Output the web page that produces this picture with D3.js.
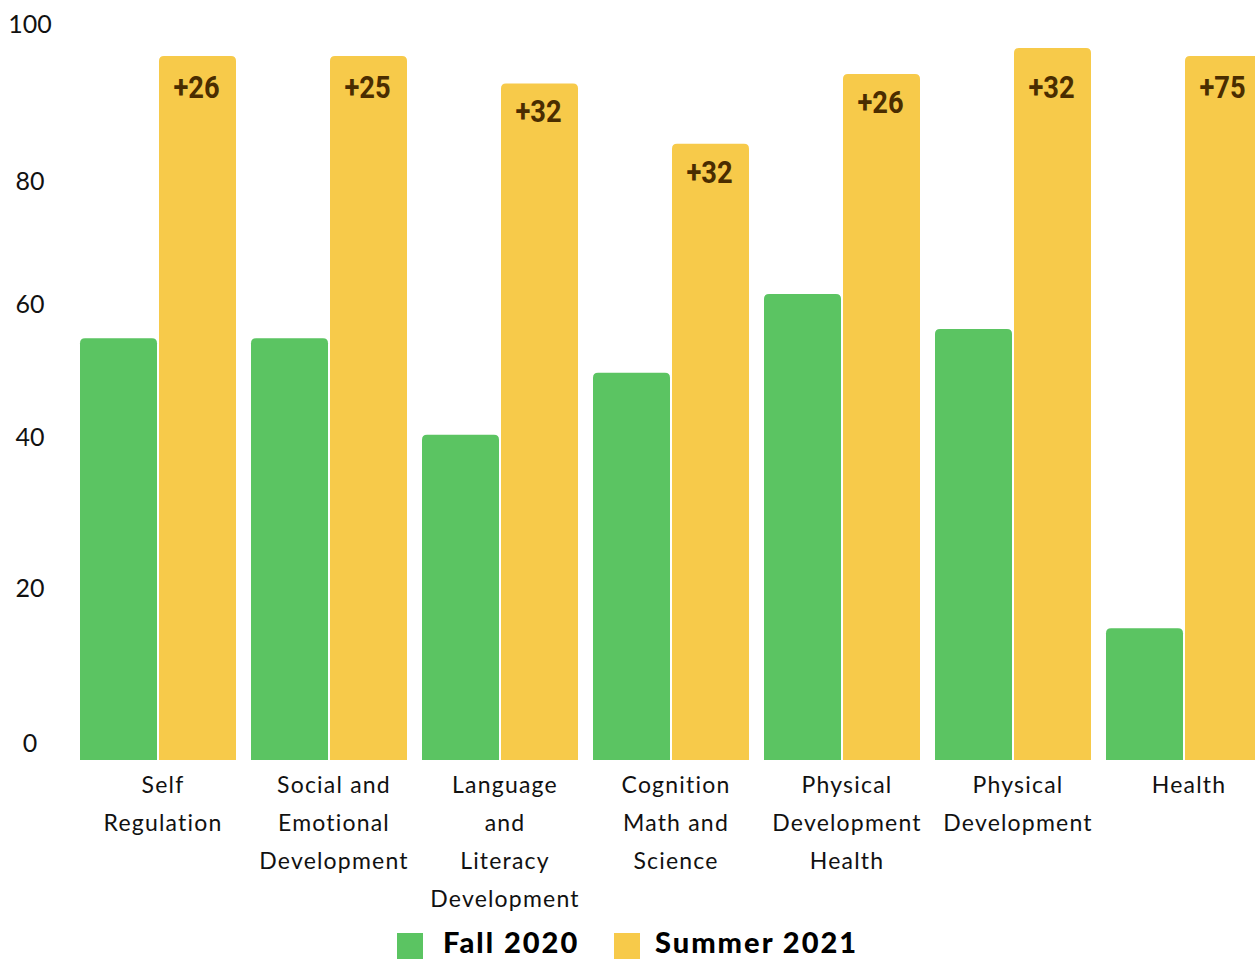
<!DOCTYPE html>
<html><head><meta charset="utf-8">
<script src="https://cdn.jsdelivr.net/npm/d3@7"></script>
<style>body{margin:0;background:#fff}svg{display:block}</style>
</head><body>
<svg id="c" width="1255" height="960"></svg>
<script>
const categories = [
  "Self\nRegulation",
  "Social and\nEmotional\nDevelopment",
  "Language\nand\nLiteracy\nDevelopment",
  "Cognition\nMath and\nScience",
  "Physical\nDevelopment\nHealth",
  "Physical\nDevelopment",
  "Health"
];
const seriesNames = ["Fall 2020", "Summer 2021"];
const fall2020 = [57.4, 57.4, 42.9, 52.2, 64.4, 58.8, 17.0];
const summer2021 = [98.1, 98.1, 94.6, 86.9, 95.8, 99.1, 98.1];
const changeLabels = ["+26", "+25", "+32", "+32", "+26", "+32", "+75"];
const yTicks = [0, 20, 40, 60, 80, 100];

const colors = {"Fall 2020": "#5bc462", "Summer 2021": "#f7ca4a"};
const svg = d3.select("#c");

const baseline = 760;
const y = d3.scaleLinear().domain(yTicks).range([baseline, 605, 454, 321, 198, 41]);
const x = d3.scaleBand().domain(categories).range([72.5, 1269.5])
  .paddingInner(15/171).paddingOuter(7.5/171);
const xs = d3.scaleBand().domain(seriesNames).range([0, x.bandwidth()])
  .paddingInner(2/79).paddingOuter(0);

// y tick labels
svg.append("g").selectAll("text").data(yTicks).join("text")
  .attr("x", 30).attr("y", d => y(d) - 18)
  .attr("text-anchor", "middle").attr("dominant-baseline", "central")
  .attr("font-family", "Lato, sans-serif").attr("font-size", 25).attr("fill", "#111")
  .text(d => d);

function topRounded(x0, y0, w, h, r) {
  r = Math.min(r, h, w / 2);
  return `M${x0},${y0 + h}V${y0 + r}Q${x0},${y0} ${x0 + r},${y0}H${x0 + w - r}Q${x0 + w},${y0} ${x0 + w},${y0 + r}V${y0 + h}Z`;
}

const rows = categories.map((c, i) => ({cat: c, vals: [
  {s: "Fall 2020", v: fall2020[i]},
  {s: "Summer 2021", v: summer2021[i], label: changeLabels[i]}
]}));

const groups = svg.append("g").selectAll("g").data(rows).join("g")
  .attr("transform", d => `translate(${x(d.cat)},0)`);

groups.selectAll("path").data(d => d.vals).join("path")
  .attr("d", d => topRounded(xs(d.s), y(d.v), xs.bandwidth(), baseline - y(d.v), 5))
  .attr("fill", d => colors[d.s]);

groups.selectAll("text.val").data(d => d.vals.filter(v => v.label)).join("text")
  .attr("class", "val")
  .attr("transform", d => `translate(${xs(d.s) + xs.bandwidth() / 2 - 1},${Math.max(y(d.v) + 28, 87) + 11}) scale(0.88,1)`)
  .attr("text-anchor", "middle")
  .attr("font-family", "Roboto, sans-serif").attr("font-weight", 700)
  .attr("font-size", 31).attr("fill", "#4a2d00")
  .text(d => d.label);

// category labels
groups.append("text")
  .attr("text-anchor", "middle")
  .attr("font-family", "Lato, sans-serif").attr("font-size", 23).attr("fill", "#111")
  .attr("letter-spacing", 1.2)
  .selectAll("tspan").data(d => d.cat.split("\n")).join("tspan")
  .attr("x", x.bandwidth() / 2 + 5)
  .attr("y", (d, i) => 784 + i * 38)
  .attr("dominant-baseline", "central")
  .text(d => d);

// legend
const legend = svg.append("g");
const legendX = [397, 614];
const legendTextX = [443, 655];
seriesNames.forEach((s, i) => {
  legend.append("rect").attr("x", legendX[i]).attr("y", 933).attr("width", 26).attr("height", 26)
    .attr("fill", colors[s]);
  legend.append("text").attr("x", legendTextX[i]).attr("y", 953)
    .attr("font-family", "Lato, sans-serif").attr("font-weight", 900).attr("font-size", 29)
    .attr("letter-spacing", 2).attr("fill", "#000").text(s);
});
</script>
</body></html>
